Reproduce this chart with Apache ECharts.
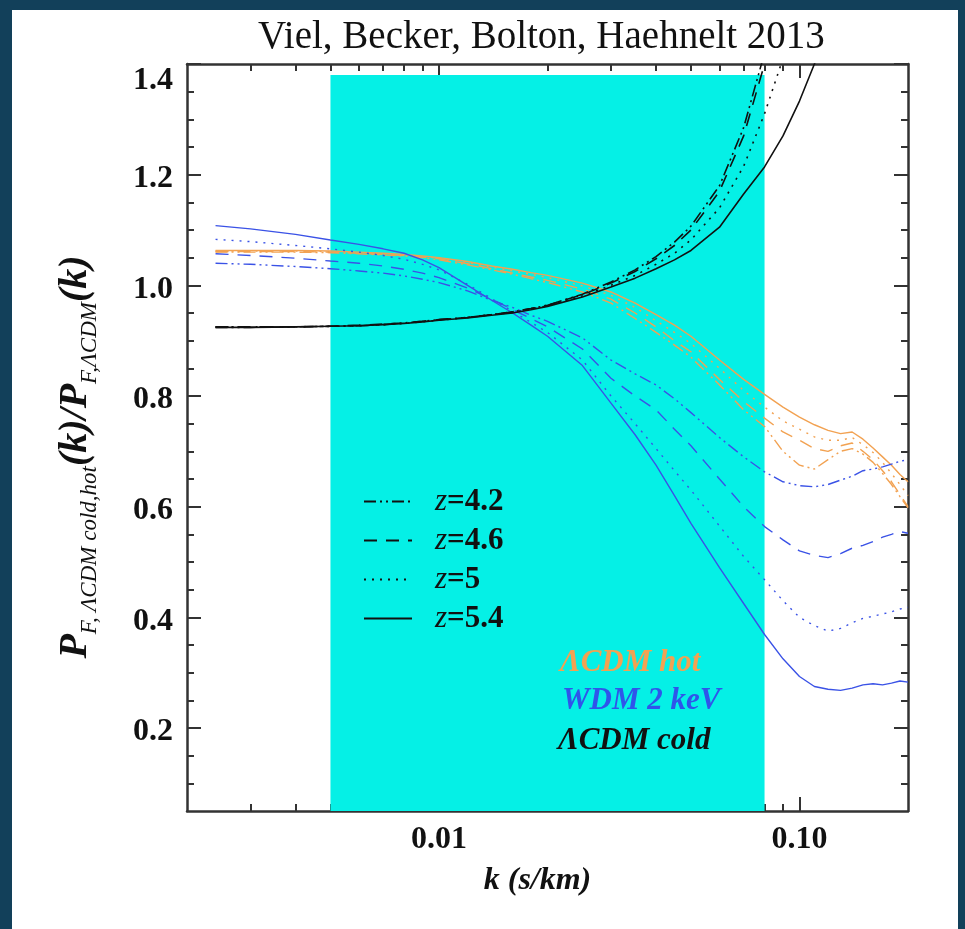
<!DOCTYPE html>
<html>
<head>
<meta charset="utf-8">
<script src="https://cdn.jsdelivr.net/npm/echarts@6/dist/echarts.min.js"></script>
<style>
  html, body { margin: 0; padding: 0; background: #12405a; }
  #main { position: absolute; left: 12px; top: 10px; width: 946px; height: 919px; background: #fff; }
</style>
</head>
<body>
<div id="main"></div>
<script>
// k (s/km) sample points, shared by every curve
var kVals = [0.0024, 0.003, 0.004, 0.005, 0.006, 0.007, 0.008, 0.009, 0.01, 0.012, 0.014, 0.016, 0.018, 0.02,
  0.025, 0.03, 0.035, 0.04, 0.045, 0.05, 0.06, 0.07, 0.08, 0.09, 0.1, 0.11, 0.12, 0.13, 0.14, 0.15, 0.16,
  0.17, 0.18, 0.19, 0.2];

// LCDM cold (black)
var coldZ54 = [0.924, 0.924, 0.925, 0.926, 0.927, 0.929, 0.931, 0.934, 0.937, 0.941, 0.946, 0.950, 0.956, 0.962,
  0.979, 0.997, 1.013, 1.030, 1.046, 1.063, 1.105, 1.165, 1.214, 1.270, 1.333, 1.400, 1.470];
var coldZ5 = [0.925, 0.925, 0.925, 0.926, 0.927, 0.929, 0.931, 0.934, 0.937, 0.942, 0.947, 0.951, 0.957, 0.963,
  0.981, 1.000, 1.018, 1.038, 1.058, 1.082, 1.140, 1.215, 1.310, 1.410, 1.500];
var coldZ46 = [0.925, 0.925, 0.925, 0.926, 0.928, 0.930, 0.932, 0.935, 0.938, 0.942, 0.947, 0.952, 0.958, 0.964,
  0.983, 1.004, 1.025, 1.048, 1.072, 1.100, 1.170, 1.270, 1.400, 1.500];
var coldZ42 = [0.924, 0.924, 0.925, 0.926, 0.927, 0.929, 0.932, 0.935, 0.938, 0.942, 0.947, 0.952, 0.958, 0.964,
  0.984, 1.006, 1.028, 1.052, 1.078, 1.107, 1.180, 1.285, 1.420, 1.520];

// LCDM hot (orange)
var hotZ54 = [1.063, 1.063, 1.063, 1.062, 1.060, 1.058, 1.056, 1.053, 1.050, 1.043, 1.035, 1.029, 1.023, 1.018,
  1.004, 0.988, 0.968, 0.947, 0.928, 0.908, 0.865, 0.830, 0.803, 0.780, 0.762, 0.748, 0.738, 0.732, 0.735,
  0.722, 0.706, 0.690, 0.675, 0.658, 0.645];
var hotZ5 = [1.062, 1.062, 1.062, 1.061, 1.059, 1.057, 1.055, 1.052, 1.049, 1.041, 1.033, 1.026, 1.020, 1.014,
  0.999, 0.982, 0.960, 0.936, 0.915, 0.895, 0.850, 0.810, 0.780, 0.755, 0.740, 0.726, 0.720, 0.720, 0.725,
  0.712, 0.698, 0.680, 0.660, 0.640, 0.620];
var hotZ46 = [1.061, 1.061, 1.061, 1.060, 1.058, 1.056, 1.054, 1.051, 1.048, 1.039, 1.030, 1.022, 1.015, 1.009,
  0.993, 0.975, 0.950, 0.925, 0.900, 0.880, 0.830, 0.790, 0.760, 0.735, 0.720, 0.705, 0.700, 0.710, 0.715,
  0.700, 0.685, 0.665, 0.645, 0.622, 0.600];
var hotZ42 = [1.060, 1.060, 1.060, 1.059, 1.057, 1.055, 1.053, 1.050, 1.046, 1.037, 1.028, 1.020, 1.012, 1.005,
  0.988, 0.968, 0.940, 0.915, 0.892, 0.870, 0.820, 0.775, 0.745, 0.700, 0.675, 0.668, 0.685, 0.700, 0.705,
  0.695, 0.680, 0.660, 0.640, 0.618, 0.598];

// WDM 2 keV (blue)
var wdmZ54 = [1.108, 1.102, 1.092, 1.082, 1.074, 1.066, 1.058, 1.046, 1.032, 1.000, 0.973, 0.950, 0.928, 0.908,
  0.855, 0.787, 0.730, 0.675, 0.620, 0.570, 0.490, 0.425, 0.369, 0.325, 0.293, 0.275, 0.270, 0.268, 0.272,
  0.278, 0.280, 0.278, 0.281, 0.285, 0.283];
var wdmZ5 = [1.083, 1.079, 1.072, 1.066, 1.060, 1.054, 1.047, 1.038, 1.028, 1.002, 0.976, 0.953, 0.933, 0.915,
  0.865, 0.800, 0.750, 0.705, 0.665, 0.630, 0.565, 0.510, 0.468, 0.430, 0.400, 0.385, 0.375, 0.380, 0.390,
  0.398, 0.402, 0.406, 0.410, 0.415, 0.418];
var wdmZ46 = [1.057, 1.054, 1.049, 1.044, 1.040, 1.035, 1.029, 1.022, 1.014, 0.995, 0.975, 0.956, 0.940, 0.925,
  0.885, 0.832, 0.800, 0.775, 0.740, 0.710, 0.650, 0.600, 0.564, 0.540, 0.520, 0.512, 0.508, 0.515, 0.525,
  0.530, 0.537, 0.545, 0.550, 0.555, 0.552];
var wdmZ42 = [1.040, 1.038, 1.034, 1.030, 1.026, 1.022, 1.017, 1.011, 1.005, 0.990, 0.973, 0.960, 0.946, 0.935,
  0.905, 0.865, 0.840, 0.820, 0.795, 0.770, 0.725, 0.690, 0.663, 0.645, 0.638, 0.636, 0.640, 0.648, 0.655,
  0.665, 0.668, 0.672, 0.677, 0.682, 0.685];

// shaded k range and its top
var bandK = [0.005, 0.08];
var bandTop = 1.38;

// axis ticks and labels
var xMajor = [0.01, 0.1];
var xMajorLabels = ['0.01', '0.10'];
var xMinor = [0.003, 0.004, 0.005, 0.006, 0.007, 0.008, 0.009, 0.02, 0.03, 0.04, 0.05, 0.06, 0.07, 0.08, 0.09];
var yMajor = [0.2, 0.4, 0.6, 0.8, 1.0, 1.2, 1.4];
var yMinor = [0.1, 0.15, 0.25, 0.3, 0.35, 0.45, 0.5, 0.55, 0.65, 0.7, 0.75, 0.85, 0.9, 0.95,
  1.05, 1.1, 1.15, 1.25, 1.3, 1.35];

var zNames = ['z=4.2', 'z=4.6', 'z=5', 'z=5.4'];
var zDash = [[12, 4, 2, 4, 2, 4], [13, 9], [2, 6], 'solid'];

var hotColor = '#f2a252';
var wdmColor = '#3a52e6';
var coldColor = '#111';
var frameColor = '#333';
var serif = 'Liberation Serif';

function pairs(vals) {
  return vals.map(function (v, i) { return [kVals[i], v]; });
}

function curve(name, vals, color, dash, width) {
  return {
    name: name,
    type: 'line',
    data: pairs(vals),
    symbol: 'none',
    clip: true,
    z: 3,
    lineStyle: { color: color, width: width, type: dash },
    emphasis: { disabled: true }
  };
}

var series = [];
var hotAll = [hotZ42, hotZ46, hotZ5, hotZ54];
var wdmAll = [wdmZ42, wdmZ46, wdmZ5, wdmZ54];
var coldAll = [coldZ42, coldZ46, coldZ5, coldZ54];
for (var i = 0; i < 4; i++) {
  series.push(curve('hot ' + zNames[i], hotAll[i], hotColor, zDash[i], 1.4));
}
for (var i = 0; i < 4; i++) {
  series.push(curve('wdm ' + zNames[i], wdmAll[i], wdmColor, zDash[i], 1.4));
}
for (var i = 0; i < 4; i++) {
  series.push(curve('cold ' + zNames[i], coldAll[i], coldColor, zDash[i], 1.6));
}
// band drawn under the curves
series[0].markArea = {
  silent: true,
  z: 1,
  itemStyle: { color: '#05f0e6' },
  data: [[{ coord: [bandK[0], 0.05] }, { coord: [bandK[1], bandTop] }]]
};
// legend-only entries (line styles in black)
for (var i = 0; i < 4; i++) {
  series.push({
    name: zNames[i], type: 'line', data: [], symbol: 'none',
    itemStyle: { color: coldColor },
    lineStyle: { color: coldColor, width: 1.8, type: zDash[i] }
  });
}

function xAxisDef(pos, ticks, len, showLine, showLabel) {
  return {
    type: 'log', min: 0.002, max: 0.2, position: pos, logBase: 10,
    axisLine: { show: showLine, onZero: false, lineStyle: { color: frameColor, width: 2.5 } },
    axisTick: { show: true, inside: true, length: len, customValues: ticks, lineStyle: { color: frameColor, width: 2 } },
    axisLabel: showLabel ? {
      show: true, customValues: xMajor, margin: 13,
      fontFamily: serif, fontWeight: 'bold', fontSize: 32, color: '#111',
      formatter: function (v) { return xMajorLabels[xMajor.indexOf(v)] || ''; }
    } : { show: false },
    splitLine: { show: false }
  };
}

function yAxisDef(pos, ticks, len, showLine, showLabel) {
  return {
    type: 'value', min: 0.05, max: 1.4, position: pos,
    axisLine: { show: showLine, onZero: false, lineStyle: { color: frameColor, width: 2.5 } },
    axisTick: { show: true, inside: true, length: len, customValues: ticks, lineStyle: { color: frameColor, width: 2 } },
    axisLabel: showLabel ? {
      show: true, customValues: yMajor, margin: 14,
      fontFamily: serif, fontWeight: 'bold', fontSize: 32, color: '#111',
      formatter: function (v) {
        var s = v.toFixed(1);
        return v > 1.35 ? '{top|' + s + '}' : '{n|' + s + '}';
      },
      rich: {
        n: { fontFamily: serif, fontWeight: 'bold', fontSize: 32, padding: [8, 0, 0, 0] },
        top: { fontFamily: serif, fontWeight: 'bold', fontSize: 32, padding: [34, 0, 0, 0] }
      }
    } : { show: false },
    splitLine: { show: false }
  };
}

var xAxes = [
  xAxisDef('bottom', xMajor, 14, true, true),
  xAxisDef('bottom', xMinor, 7, false, false),
  xAxisDef('top', xMajor, 14, true, false),
  xAxisDef('top', xMinor, 7, false, false)
];
xAxes[0].name = 'k (s/km)';
xAxes[0].nameLocation = 'middle';
xAxes[0].nameGap = 54;
xAxes[0].nameTextStyle = { fontFamily: serif, fontWeight: 'bold', fontStyle: 'italic', fontSize: 32, color: '#111', padding: [0, 20, 0, 0] };

var yAxes = [
  yAxisDef('left', yMajor, 14, true, true),
  yAxisDef('left', yMinor, 7, false, false),
  yAxisDef('right', yMajor, 14, true, false),
  yAxisDef('right', yMinor, 7, false, false)
];

var chart = echarts.init(document.getElementById('main'), null, { renderer: 'canvas' });

var bigP = { fontFamily: serif, fontWeight: 'bold', fontStyle: 'italic', fontSize: 40, lineHeight: 50, verticalAlign: 'middle', fill: '#111' };
var subP = { fontFamily: serif, fontStyle: 'italic', fontSize: 23, lineHeight: 23, verticalAlign: 'bottom', fill: '#111' };

var option = {
  animation: false,
  backgroundColor: '#fff',
  grid: { left: 175, top: 54, width: 721, height: 747, containLabel: false },
  xAxis: xAxes,
  yAxis: yAxes,
  legend: {
    data: zNames,
    orient: 'vertical',
    left: 346,
    top: 471,
    itemWidth: 48,
    itemHeight: 16,
    itemGap: 8,
    selectedMode: false,
    itemStyle: { color: 'rgba(0,0,0,0)', borderColor: 'rgba(0,0,0,0)', borderWidth: 0, opacity: 0 },
    formatter: function (name) { return '{i|z}{b|' + name.slice(1) + '}'; },
    textStyle: {
      padding: [0, 0, 0, 18],
      rich: {
        i: { fontFamily: serif, fontStyle: 'italic', fontSize: 31, color: '#111' },
        b: { fontFamily: serif, fontWeight: 'bold', fontSize: 31, color: '#111' }
      }
    }
  },
  graphic: [
    {
      type: 'text', x: 246, y: 8, z: 10,
      style: { text: 'Viel, Becker, Bolton, Haehnelt 2013', font: '39px "Liberation Serif"', fill: '#111' }
    },
    {
      type: 'text', x: 64, y: 447, z: 10, rotation: Math.PI / 2,
      style: {
        text: '{p|P}{s|F, ΛCDM cold,hot}{p|(k)/P}{s|F,ΛCDM}{p|(k)}',
        align: 'center', verticalAlign: 'middle',
        rich: { p: bigP, s: subP }
      }
    },
    {
      type: 'text', x: 548, y: 653, z: 10,
      style: { text: 'ΛCDM hot', font: 'italic bold 31px "Liberation Serif"', fill: hotColor, verticalAlign: 'middle' }
    },
    {
      type: 'text', x: 550, y: 691, z: 10,
      style: { text: 'WDM 2 keV', font: 'italic bold 31px "Liberation Serif"', fill: '#2f55ea', verticalAlign: 'middle' }
    },
    {
      type: 'text', x: 546, y: 731, z: 10,
      style: { text: 'ΛCDM cold', font: 'italic bold 31px "Liberation Serif"', fill: '#111', verticalAlign: 'middle' }
    }
  ],
  series: series
};

chart.setOption(option);
</script>
</body>
</html>
